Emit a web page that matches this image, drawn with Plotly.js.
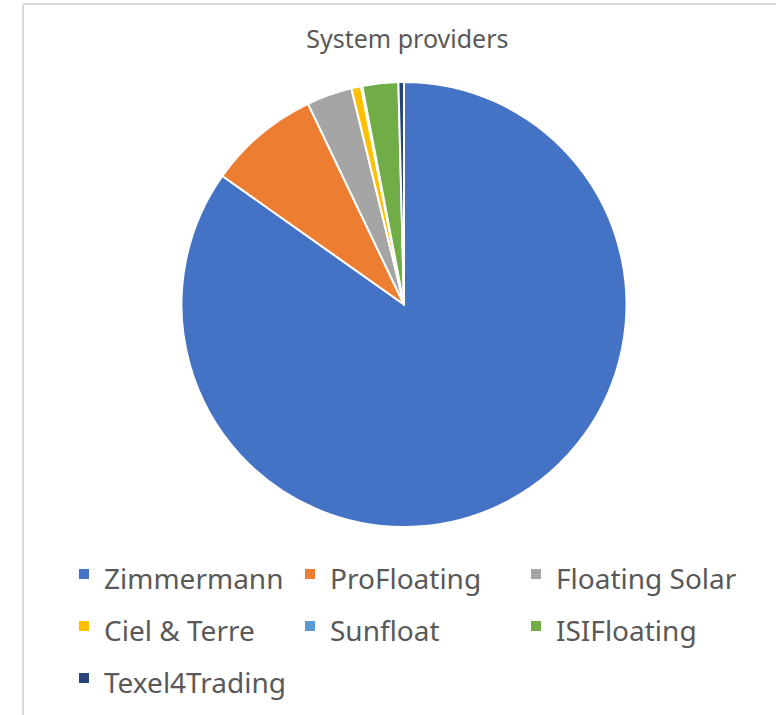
<!DOCTYPE html>
<html>
<head>
<meta charset="utf-8">
<script src="https://cdn.plot.ly/plotly-3.0.1.min.js"></script>
<style>html,body{margin:0;padding:0;background:#fff;}#chart{width:776px;height:715px;}</style>
</head>
<body>
<div id="chart"></div>
<script>
const chartTitle = "System providers";
const providers = ["Zimmermann", "ProFloating", "Floating Solar", "Ciel & Terre", "Sunfloat", "ISIFloating", "Texel4Trading"];
const shares = [84.8, 8.1, 3.3, 0.7, 0.1, 2.6, 0.4];
const colors = ["#4472C4", "#ED7D31", "#A5A5A5", "#FFC000", "#5B9BD5", "#70AD47", "#264478"];

const W = 776, H = 715;
// legend labels drawn at 28px inside a taller legend row
const legendLabels = providers.map(p => '<span style="font-size:28px">' + p + '</span>');
const trace = {
  type: "pie",
  labels: legendLabels,
  values: shares,
  sort: false,
  direction: "clockwise",
  rotation: 0,
  textinfo: "none",
  hoverinfo: "label+percent",
  marker: {colors: colors, line: {color: "#ffffff", width: 2}},
  domain: {x: [0.2332, 0.808], y: [1 - 527/H, 1 - 82/H]}
};
const layout = {
  width: W, height: H,
  margin: {l: 0, r: 0, t: 0, b: 0},
  paper_bgcolor: "#ffffff",
  title: {text: chartTitle, x: 0.525, xanchor: "center", y: 1 - 39/H, yanchor: "middle",
          font: {family: "Noto Sans, Open Sans, sans-serif", size: 25, color: "#595959"}},
  showlegend: true,
  legend: {orientation: "h", x: 64/W, xanchor: "left", y: 1 - 543/H, yanchor: "top",
           entrywidth: 181, entrywidthmode: "pixels", itemwidth: 30,
           font: {family: "Noto Sans, Open Sans, sans-serif", size: 37.7, color: "#595959"},
           traceorder: "normal"},
  shapes: [
    {type: "line", xref: "paper", yref: "paper", x0: 23/W, x1: 23/W, y0: 0, y1: 1 - 4/H, line: {color: "#d9d9d9", width: 2}},
    {type: "line", xref: "paper", yref: "paper", x0: 23/W, x1: 1, y0: 1 - 4/H, y1: 1 - 4/H, line: {color: "#d9d9d9", width: 2}}
  ]
};
Plotly.newPlot("chart", [trace], layout, {displayModeBar: false, staticPlot: true});
</script>
</body>
</html>
